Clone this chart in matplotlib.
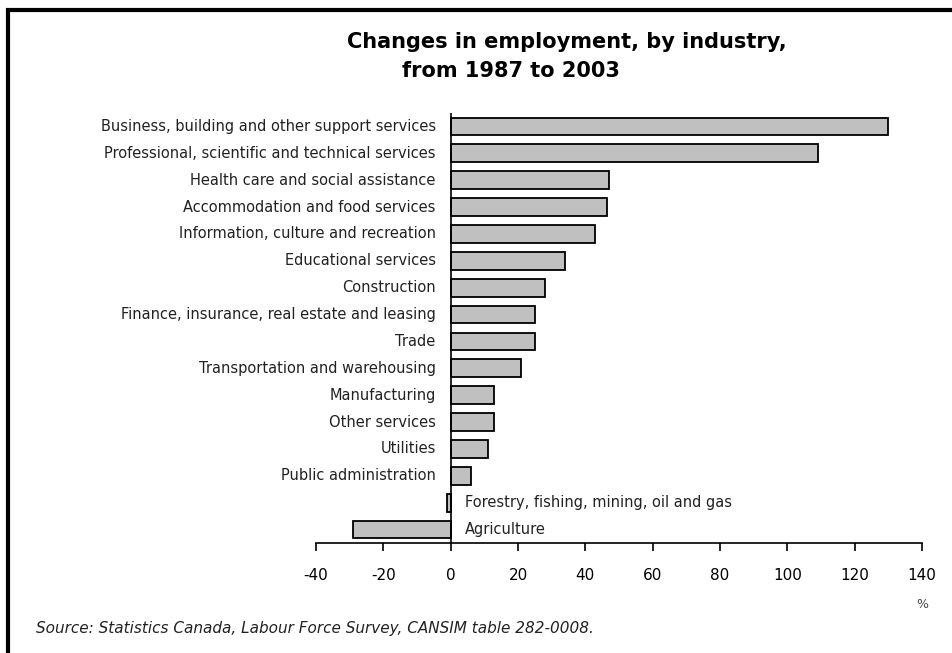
import matplotlib.pyplot as plt
from matplotlib.patches import Rectangle

plt.rcParams['font.family'] = ['DejaVu Sans']

# Data (percent change in employment, 1987-2003)
industries = [
    'Business, building and other support services',
    'Professional, scientific and technical services',
    'Health care and social assistance',
    'Accommodation and food services',
    'Information, culture and recreation',
    'Educational services',
    'Construction',
    'Finance, insurance, real estate and leasing',
    'Trade',
    'Transportation and warehousing',
    'Manufacturing',
    'Other services',
    'Utilities',
    'Public administration',
    'Forestry, fishing, mining, oil and gas',
    'Agriculture',
]
changes = [130, 109, 47, 46.5, 43, 34, 28, 25, 25, 21, 13, 13, 11, 6, -1, -29]
x_ticks = [-40, -20, 0, 20, 40, 60, 80, 100, 120, 140]

fig = plt.figure(figsize=(9.52, 6.53), dpi=100)
ax = fig.add_axes([316 / 952, 1 - 543 / 653, 606 / 952, 430 / 653])

ypos = list(range(len(industries)))
ax.barh(ypos, changes, height=0.66, color='#c0c0c0', edgecolor='black', linewidth=1.3)

ax.set_xlim(-40, 140)
ax.set_ylim(len(industries) - 0.5, -0.5)
ax.set_xticks(x_ticks)
ax.set_xticklabels([str(t) for t in x_ticks], fontsize=11)
ax.tick_params(axis='x', direction='out', length=6, width=1.2, pad=12)
ax.set_yticks([])
for s in ['top', 'right', 'left']:
    ax.spines[s].set_visible(False)
ax.spines['bottom'].set_linewidth(1.2)
ax.axvline(0, color='black', linewidth=1.2)

# category labels: left of the axis, or right of it for negative bars
for i, (name, v) in enumerate(zip(industries, changes)):
    if v >= 0:
        ax.annotate(name, xy=(0, i), xytext=(-15, 0), textcoords='offset pixels',
                    ha='right', va='center', fontsize=10.5, color='#222222')
    else:
        ax.annotate(name, xy=(0, i), xytext=(14, 0), textcoords='offset pixels',
                    ha='left', va='center', fontsize=10.5, color='#222222')

fig.text(347 / 952, 1 - 42 / 653, 'Changes in employment, by industry,',
         fontsize=15, fontweight='bold', ha='left', va='center')
fig.text(402 / 952, 1 - 71 / 653, 'from 1987 to 2003',
         fontsize=15, fontweight='bold', ha='left', va='center')
fig.text(922 / 952, 1 - 605 / 653, '%', fontsize=9, ha='center', va='center', color='#444444')
fig.text(36 / 952, 1 - 628 / 653,
         'Source: Statistics Canada, Labour Force Survey, CANSIM table 282-0008.',
         fontsize=11, style='italic', ha='left', va='center', color='#222222')

# outer frame
fig.patches.append(Rectangle((8 / 952, -0.05), 1.2, 1 - 10 / 653 + 0.05,
                             transform=fig.transFigure, fill=False,
                             edgecolor='black', linewidth=3))

fig.savefig('out.png', dpi=100)
